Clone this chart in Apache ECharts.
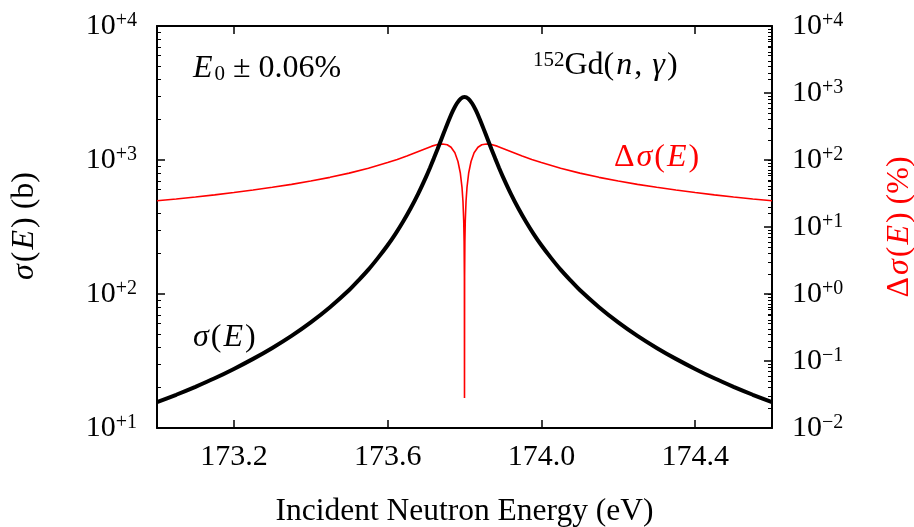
<!DOCTYPE html>
<html>
<head>
<meta charset="utf-8">
<script src="https://cdn.jsdelivr.net/npm/echarts@6/dist/echarts.min.js"></script>
<style>
html, body { margin: 0; padding: 0; background: #fff; }
#chart { width: 914px; height: 527px; }
</style>
</head>
<body>
<div id="chart"></div>
<script>
// Cross section sigma(E) in barns
var sigmaEnergy = [173.00, 173.05, 173.10, 173.15, 173.20, 173.25, 173.30, 173.35, 173.40, 173.45, 173.50, 173.525, 173.55, 173.575, 173.60,
    173.62, 173.64, 173.66, 173.68, 173.70, 173.71, 173.72, 173.73, 173.74, 173.75, 173.76, 173.77, 173.78, 173.79, 173.80,
    173.81, 173.82, 173.83, 173.84, 173.85, 173.86, 173.87, 173.88, 173.89, 173.90, 173.92, 173.94, 173.96, 173.98,
    174.00, 174.025, 174.05, 174.075, 174.10, 174.15, 174.20, 174.25, 174.30, 174.35, 174.40, 174.45, 174.50, 174.55, 174.60];
var sigmaValue = [15.6, 17.7, 20.3, 23.5, 27.6, 32.8, 39.6, 48.7, 61.4, 79.7, 107, 127, 152, 186, 231,
    280, 346, 436, 564, 749, 872, 1024, 1208, 1433, 1700, 2006, 2332, 2640, 2866, 2950,
    2866, 2640, 2332, 2006, 1700, 1433, 1208, 1024, 872, 749, 564, 436, 346, 280,
    231, 186, 152, 127, 107, 79.7, 61.4, 48.7, 39.6, 32.8, 27.6, 23.5, 20.3, 17.7, 15.6];

// Relative change delta sigma(E) in percent
var deltaEnergy = [173.00, 173.05, 173.10, 173.15, 173.20, 173.25, 173.30, 173.35, 173.40, 173.45, 173.50, 173.55, 173.60,
    173.625, 173.65, 173.675, 173.70, 173.715, 173.73, 173.743, 173.755, 173.765, 173.775, 173.783, 173.789, 173.7935,
    173.796, 173.798, 173.799, 173.7997, 173.80,
    173.8003, 173.801, 173.802, 173.804, 173.8065, 173.811, 173.817, 173.825, 173.835, 173.845, 173.857, 173.87, 173.885,
    173.90, 173.925, 173.95, 173.975, 174.00, 174.05, 174.10, 174.15, 174.20, 174.25, 174.30, 174.35, 174.40, 174.45,
    174.50, 174.55, 174.60];
var deltaValue = [24.6, 26.2, 28.1, 30.2, 32.7, 35.6, 39.1, 43.3, 48.5, 55.1, 63.7, 75.3, 91.6,
    102, 115, 131, 149, 161, 170, 173.6, 169, 155, 128, 95, 64.6, 39,
    24.2, 12.2, 6.1, 1.8, 0.028,
    1.8, 6.1, 12.2, 24.2, 39, 64.6, 95, 128, 155, 169, 173.6, 170, 161,
    149, 131, 115, 102, 91.6, 75.3, 63.7, 55.1, 48.5, 43.3, 39.1, 35.6, 32.7, 30.2,
    28.1, 26.2, 24.6];

var energyTicks = [173.2, 173.6, 174.0, 174.4];

var serif = 'Liberation Serif';

function pairUp(xs, ys) {
    return xs.map(function (x, i) { return [x, ys[i]]; });
}

// 2..9 times each decade, for the short log ticks
function minorLogTicks(fromExp, toExp) {
    var out = [];
    for (var e = fromExp; e < toExp; e++) {
        for (var m = 2; m <= 9; m++) out.push(m * Math.pow(10, e));
    }
    return out;
}

// 10^{+n} style tick labels
function powerLabel(v) {
    var e = Math.round(Math.log10(v));
    var s = e < 0 ? '\u2212' + (-e) : '+' + e;
    return '{b|10}{s|' + s + '}';
}

var powerRich = {
    b: { fontSize: 30, fontFamily: serif, color: '#000' },
    s: { fontSize: 20, fontFamily: serif, color: '#000', verticalAlign: 'top' }
};

// math-style italic token with a little side bearing
function italicStyle(color) {
    return { fontSize: 32, fontFamily: serif, fontStyle: 'italic', color: color, padding: [0, 2, 0, 2] };
}

// tick-only log axis laid over the frame
function tickAxis(side, min, max, values, len) {
    return {
        type: 'log',
        logBase: 10,
        position: side,
        min: min,
        max: max,
        splitLine: { show: false },
        axisLine: { show: false },
        axisLabel: { show: false },
        axisTick: { inside: true, length: len, customValues: values, lineStyle: { color: '#000', width: 1 } }
    };
}

var chart = echarts.init(document.getElementById('chart'));

chart.setOption({
    animation: false,
    backgroundColor: '#fff',
    grid: { left: 157, right: 142, top: 26, bottom: 99, outerBoundsMode: 'none' },
    xAxis: [
        {
            type: 'value',
            position: 'bottom',
            min: 173.0,
            max: 174.6,
            splitLine: { show: false },
            axisLine: { lineStyle: { color: '#000', width: 2 } },
            axisTick: { inside: true, length: 8, customValues: energyTicks, lineStyle: { color: '#000', width: 1.5 } },
            axisLabel: {
                customValues: energyTicks,
                formatter: function (v) { return v.toFixed(1); },
                margin: 14,
                fontSize: 30, fontFamily: serif, color: '#000'
            },
            name: 'Incident Neutron Energy (eV)',
            nameLocation: 'middle',
            nameGap: 68,
            nameTextStyle: { fontSize: 31.5, fontFamily: serif, color: '#000' }
        },
        {
            type: 'value',
            position: 'top',
            min: 173.0,
            max: 174.6,
            splitLine: { show: false },
            axisLine: { lineStyle: { color: '#000', width: 2 } },
            axisTick: { inside: true, length: 8, customValues: energyTicks, lineStyle: { color: '#000', width: 1.5 } },
            axisLabel: { show: false }
        }
    ],
    yAxis: [
        {
            type: 'log',
            logBase: 10,
            position: 'left',
            min: 10,
            max: 10000,
            splitLine: { show: false },
            axisLine: { lineStyle: { color: '#000', width: 2 } },
            axisTick: { inside: true, length: 8, lineStyle: { color: '#000', width: 1.5 } },
            axisLabel: { formatter: powerLabel, rich: powerRich, margin: 20 },
            name: '{i|\u03c3}({i|E}) (b)',
            nameLocation: 'middle',
            nameRotate: 90,
            nameGap: 116,
            nameTextStyle: {
                fontSize: 32, fontFamily: serif, color: '#000',
                rich: { i: italicStyle('#000') }
            }
        },
        {
            type: 'log',
            logBase: 10,
            position: 'right',
            min: 0.01,
            max: 10000,
            splitLine: { show: false },
            axisLine: { lineStyle: { color: '#000', width: 2 } },
            axisTick: { inside: true, length: 8, lineStyle: { color: '#000', width: 1.5 } },
            axisLabel: { formatter: powerLabel, rich: powerRich, margin: 20 },
            name: '\u0394{i|\u03c3}({i|E}) (%)',
            nameLocation: 'middle',
            nameRotate: 90,
            nameGap: 112,
            nameTextStyle: {
                fontSize: 32, fontFamily: serif, color: '#ff0000',
                rich: { i: italicStyle('#ff0000') }
            }
        },
        tickAxis('left', 10, 10000, minorLogTicks(1, 4), 4),
        tickAxis('right', 0.01, 10000, minorLogTicks(-2, 4), 4),
        tickAxis('right', 10, 10000, minorLogTicks(1, 4).concat([100, 1000]), 4)
    ],
    series: [
        {
            name: 'delta',
            type: 'line',
            xAxisIndex: 0,
            yAxisIndex: 1,
            data: pairUp(deltaEnergy, deltaValue),
            showSymbol: false,
            lineStyle: { color: '#ff0000', width: 1.6 },
            z: 3
        },
        {
            name: 'sigma',
            type: 'line',
            xAxisIndex: 0,
            yAxisIndex: 0,
            data: pairUp(sigmaEnergy, sigmaValue),
            showSymbol: false,
            smooth: 0.2,
            lineStyle: { color: '#000', width: 4 },
            z: 4
        }
    ],
    graphic: [
        {
            type: 'text', left: 193, top: 53,
            style: {
                text: '{i|E}{sub|0} \u00b1 0.06%',
                fontSize: 32, fontFamily: serif, fill: '#000',
                rich: {
                    i: italicStyle('#000'),
                    sub: { fontSize: 21, fontFamily: serif, verticalAlign: 'bottom' }
                }
            }
        },
        {
            type: 'text', left: 533, top: 50,
            style: {
                text: '{sup|152}Gd({i|n}, {i|\u03b3})',
                fontSize: 32, fontFamily: serif, fill: '#000',
                rich: {
                    i: italicStyle('#000'),
                    sup: { fontSize: 21, fontFamily: serif, verticalAlign: 'top' }
                }
            }
        },
        {
            type: 'text', left: 614, top: 142,
            style: {
                text: '\u0394{i|\u03c3}({i|E})',
                fontSize: 32, fontFamily: serif, fill: '#ff0000',
                rich: { i: italicStyle('#ff0000') }
            }
        },
        {
            type: 'text', left: 193, top: 322,
            style: {
                text: '{i|\u03c3}({i|E})',
                fontSize: 32, fontFamily: serif, fill: '#000',
                rich: { i: italicStyle('#000') }
            }
        }
    ]
});
</script>
</body>
</html>
